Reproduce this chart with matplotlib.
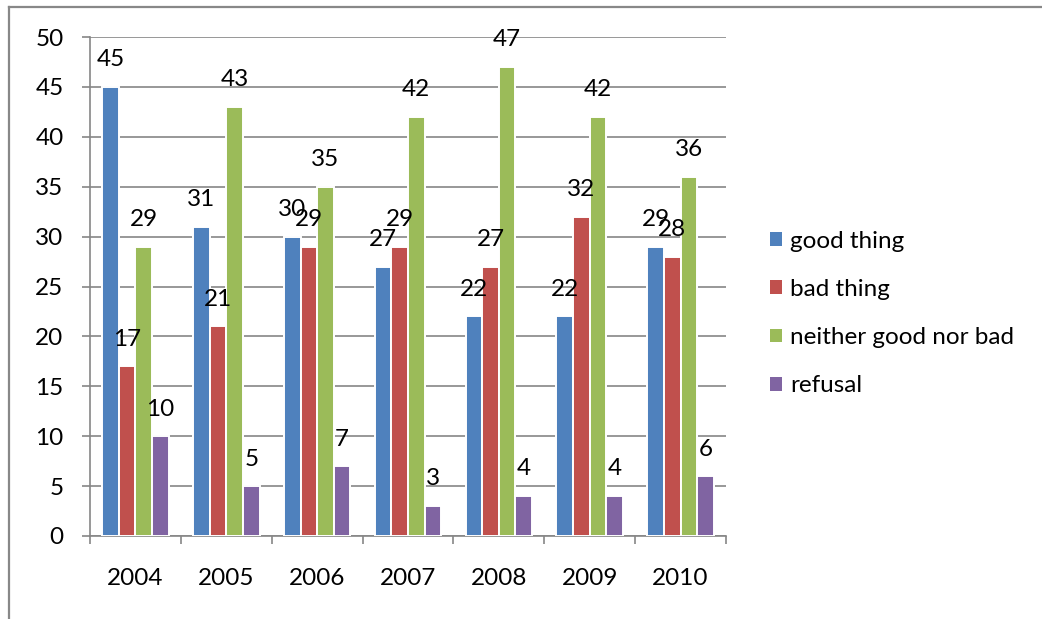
import matplotlib
matplotlib.use("Agg")
import matplotlib.pyplot as plt
import numpy as np
from matplotlib.lines import Line2D

years = ["2004", "2005", "2006", "2007", "2008", "2009", "2010"]
series_names = ["good thing", "bad thing", "neither good nor bad", "refusal"]
good = [45, 31, 30, 27, 22, 22, 29]
bad = [17, 21, 29, 29, 27, 32, 28]
neither = [29, 43, 35, 42, 47, 42, 36]
refusal = [10, 5, 7, 3, 4, 4, 6]
colors = ["#4F81BD", "#C0504D", "#9BBB59", "#8064A2"]

plt.rcParams['font.family'] = ['Lato', 'DejaVu Sans']
FS = 17.5
W, H = 1042, 619
fig = plt.figure(figsize=(W / 100, H / 100), dpi=100)
ax = fig.add_axes([90 / W, 1 - 536 / H, (726 - 90) / W, (536 - 37) / H])

grid_c = "#868686"
x = np.arange(len(years))
bw = 0.183
data = [good, bad, neither, refusal]
for i, (vals, c, name) in enumerate(zip(data, colors, series_names)):
    pos = x + (i - 1.5) * bw
    bars = ax.bar(pos, vals, width=bw, color=c, edgecolor="white", linewidth=1.4,
                  label=name, zorder=3)
    for b, v in zip(bars, vals):
        ax.annotate(str(v), (b.get_x() + b.get_width() / 2, v), xytext=(0, 19.5),
                    textcoords="offset points", ha="center", va="center",
                    fontsize=FS, color="black", zorder=5)

ax.set_xlim(-0.5, len(years) - 0.5)
ax.set_ylim(0, 50)
ax.set_yticks(range(0, 51, 5))
ax.yaxis.grid(True, color=grid_c, linewidth=1.2, zorder=0)
ax.set_axisbelow(True)
for s in ["top", "right"]:
    ax.spines[s].set_visible(False)
for s in ["left", "bottom"]:
    ax.spines[s].set_color(grid_c)
    ax.spines[s].set_linewidth(1.2)
ax.tick_params(axis="y", length=6, width=1.2, color=grid_c, pad=13, labelsize=FS)
ax.set_xticks(x)
ax.set_xticklabels(years)
ax.set_xticks(np.arange(-0.5, len(years), 1.0), minor=True)
ax.tick_params(axis="x", which="major", length=0, pad=23, labelsize=FS)
ax.tick_params(axis="x", which="minor", length=6, width=1.2, color=grid_c)

leg = fig.legend(loc="center left", bbox_to_anchor=(770 / W, 1 - 313.5 / H),
                 frameon=False, fontsize=FS, handlelength=0.49, handleheight=0.49,
                 handletextpad=0.33, labelspacing=1.12, borderpad=0, borderaxespad=0)
for p in leg.get_patches():
    p.set_edgecolor("none")

# outer chart border (top and left visible)
fig.add_artist(Line2D([9 / W, 9 / W], [0, 1 - 7 / H], transform=fig.transFigure,
                      color="#888888", linewidth=1.6))
fig.add_artist(Line2D([9 / W, 1], [1 - 7 / H, 1 - 7 / H], transform=fig.transFigure,
                      color="#888888", linewidth=1.6))

fig.savefig("out.png", dpi=100)
